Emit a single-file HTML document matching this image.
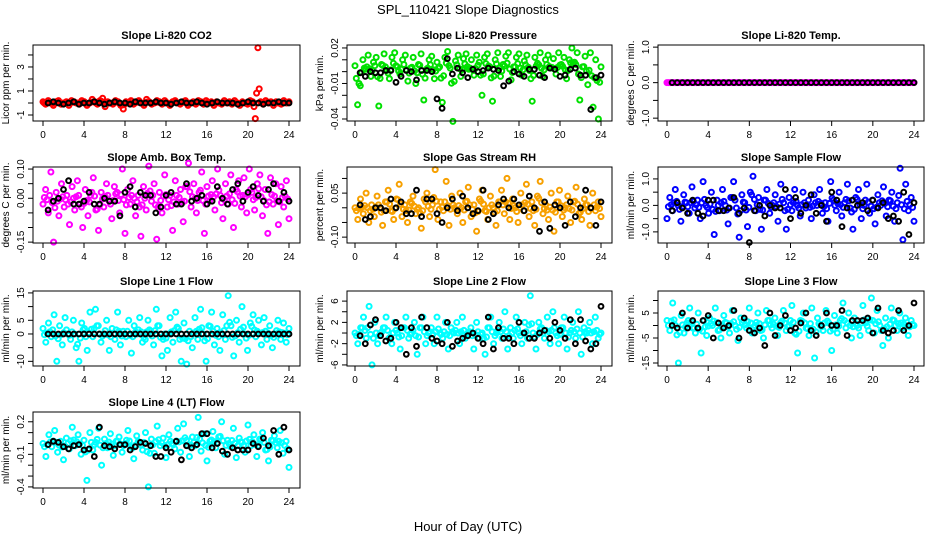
<!DOCTYPE html>
<html><head><meta charset="utf-8">
<style>
html,body{margin:0;padding:0;background:#fff;}
svg{display:block;font-family:"Liberation Sans",Arial,sans-serif;}
</style></head>
<body>
<svg id="chart" width="936" height="540" viewBox="0 0 936 540" xmlns="http://www.w3.org/2000/svg">
<rect width="936" height="540" fill="#fff"/>
<text x="468" y="14" text-anchor="middle" font-size="13">SPL_110421  Slope Diagnostics</text>
<text x="468" y="531" text-anchor="middle" font-size="13">Hour of Day (UTC)</text>
</svg>
<script>
// ---- data ----
const xTicks = [0,4,8,12,16,20,24];
const co2Vals = [0.1,-0.1,0.2,0.0,-0.2,0.1,0.2,-0.1,0.0,0.1,-0.2,0.2,0.1,0.0,-0.1,0.2,0.1,-0.2,0.0,0.3,0.1,-0.1,0.2,0.4,-0.3,0.1,0.0,-0.1,0.2,0.1,-0.2,-0.5,0.1,0.0,0.2,-0.1,0.1,0.2,0.0,-0.2,0.3,0.1,-0.1,0.0,0.2,0.1,-0.1,0.2,0.0,-0.2,0.1,0.2,0.0,-0.1,0.1,0.2,-0.2,0.0,0.1,-0.1,0.2,0.1,-0.1,0.2,0.0,0.1,-0.2,0.1,0.0,-0.1,0.2,0.0,0.1,-0.1,0.2,0.0,-0.2,0.1,0.0,-0.1,0.2,0.1,-1.3,4.6,0.1,-0.1,0.2,0.0,0.1,-0.2,0.1,0.0,-0.1,0.2,0.0,0.1];
const co2Black = [0.0,0.1,0.0,-0.1,0.0,0.1,-0.1,0.0,0.0,0.1,0.0,-0.1,0.0,0.1,0.0,0.0,-0.1,0.1,0.0,0.0,0.0,0.1,0.0,0.0,-0.1,0.0,0.1,0.0,0.0,0.1,0.0,-0.1,0.0,0.1,0.0,0.0,0.0,-0.1,0.0,0.1,0.0,0.0,-0.1,0.0,0.0,0.1,0.0,0.0];
const presVals = [0.005,-0.028,-0.012,0.010,0.002,0.014,-0.004,0.008,0.012,-0.029,0.006,0.015,0.001,-0.006,0.012,0.016,0.004,-0.002,0.010,0.014,-0.008,0.003,0.012,-0.010,0.006,0.015,-0.024,0.002,0.010,0.013,-0.006,0.008,0.004,-0.026,0.012,0.017,0.003,-0.042,0.009,0.014,-0.004,0.011,0.015,0.002,0.010,-0.003,0.014,0.008,-0.020,0.012,0.015,0.004,-0.025,0.010,0.016,-0.004,0.006,0.013,0.016,-0.007,0.004,0.012,0.015,-0.003,0.009,0.014,0.001,-0.025,0.012,0.007,0.016,-0.004,0.010,0.014,0.003,0.011,-0.002,0.016,0.006,0.012,-0.006,0.010,0.020,0.008,0.016,-0.024,0.004,0.013,-0.011,0.016,-0.030,0.010,-0.040,0.004];
const presBlack = [-0.001,-0.004,0.000,-0.001,-0.001,0.001,0.001,-0.009,-0.004,0.001,0.000,-0.007,0.001,0.001,0.000,-0.023,-0.031,0.011,-0.002,0.003,-0.001,-0.005,0.002,0.000,0.001,0.003,0.002,0.001,-0.012,-0.008,0.000,-0.002,-0.004,0.002,0.002,-0.003,-0.005,0.003,0.002,-0.004,-0.003,0.002,0.003,-0.003,-0.003,-0.032,-0.005,-0.003];
const tempVals = [0,0,0,0,0,0,0,0,0,0,0,0,0,0,0,0,0,0,0,0,0,0,0,0,0,0,0,0,0,0,0,0,0,0,0,0,0,0,0,0,0,0,0,0,0,0,0,0,0,0,0,0,0,0,0,0,0,0,0,0,0,0,0,0,0,0,0,0,0,0,0,0];
const tempBlack = [0,0,0,0,0,0,0,0,0,0,0,0,0,0,0,0,0,0,0,0,0,0,0,0,0,0,0,0,0,0,0,0,0,0,0,0,0,0,0,0,0,0,0,0,0,0,0,0];
const ambVals = [-0.02,0.03,-0.05,0.09,-0.15,0.02,-0.06,0.05,-0.03,0.01,-0.09,0.04,-0.04,0.06,-0.02,-0.10,0.03,-0.06,0.01,0.07,-0.04,-0.11,0.02,-0.03,0.05,-0.01,-0.07,0.04,0.02,-0.05,0.10,-0.12,0.03,-0.02,0.06,-0.06,0.01,-0.13,0.04,-0.04,0.11,-0.01,0.05,-0.14,0.02,-0.05,0.08,-0.03,0.01,-0.11,0.06,-0.02,0.03,-0.08,0.04,0.12,-0.03,0.05,-0.05,0.02,0.09,-0.12,0.04,-0.01,0.06,-0.04,0.10,0.01,-0.07,0.05,-0.02,0.08,-0.10,0.03,0.06,-0.03,0.07,-0.05,0.10,0.02,-0.04,0.05,0.08,-0.06,0.03,-0.12,0.07,-0.02,0.05,-0.09,0.04,-0.03,0.06,-0.07];
const ambBlack = [-0.04,-0.01,0.00,0.03,0.06,-0.02,-0.02,-0.01,0.02,-0.02,-0.02,0.00,-0.01,-0.01,-0.06,0.02,0.04,-0.03,0.02,0.01,0.01,-0.05,-0.03,0.01,0.02,-0.02,-0.02,0.05,-0.01,0.00,0.01,-0.02,-0.01,0.04,0.00,-0.02,0.03,0.05,-0.01,0.02,0.04,0.01,-0.01,0.03,0.05,-0.01,0.02,-0.01];
const rhVals = [0.00,-0.04,0.03,-0.02,0.05,-0.05,0.01,-0.03,0.04,0.00,-0.06,0.02,0.06,-0.01,-0.04,0.03,0.08,-0.03,0.01,-0.05,0.02,0.04,-0.02,0.00,-0.07,0.03,0.05,-0.03,0.01,0.13,-0.04,0.02,-0.01,0.09,-0.06,0.04,0.00,-0.02,0.05,-0.05,0.02,0.07,-0.03,0.01,-0.08,0.03,0.06,-0.01,-0.04,0.04,0.00,-0.06,0.02,0.06,-0.02,0.10,-0.04,0.03,0.00,-0.05,0.05,-0.01,0.08,-0.03,0.02,-0.06,0.04,0.09,-0.02,0.01,-0.04,0.05,-0.08,0.02,0.06,-0.03,0.00,0.04,-0.05,0.02,0.07,-0.02,-0.04,0.03,0.01,-0.06,0.05,-0.01,0.02,-0.03];
const rhBlack = [0.01,-0.04,-0.03,0.00,0.00,-0.01,0.03,0.00,0.02,-0.02,-0.02,0.06,-0.03,0.03,0.03,-0.02,-0.05,0.00,0.03,-0.01,0.04,0.00,-0.02,-0.01,0.06,-0.04,-0.02,0.01,0.03,0.00,0.03,0.01,-0.01,0.04,0.00,-0.08,0.02,-0.07,0.01,0.00,-0.06,0.02,-0.03,0.00,0.06,0.00,-0.06,0.02];
const sampVals = [-0.5,0.3,-0.2,0.6,0.0,-0.6,0.4,0.1,-0.3,0.7,-0.1,0.2,-0.5,0.9,0.0,-0.3,0.5,-1.1,0.2,-0.2,0.6,0.0,-0.7,0.3,0.9,-0.1,-1.2,0.4,0.1,-0.8,0.5,1.1,-0.2,0.3,-0.9,0.2,0.6,-0.3,0.0,0.4,-0.6,0.8,0.1,-0.9,0.3,-0.2,0.6,0.0,-0.4,0.5,-0.1,0.2,-0.5,0.4,0.0,0.6,-0.3,0.1,-0.6,0.9,0.2,-0.2,0.5,-0.4,0.1,0.8,-0.1,-0.9,0.3,0.6,-0.5,0.0,0.8,-0.3,0.2,-0.7,0.4,0.0,0.7,-0.4,0.2,0.5,-0.6,0.1,1.4,-1.3,0.8,-0.2,0.3,-0.6];
const sampBlack = [-0.2,0.1,-0.1,-0.3,0.2,-0.3,-0.4,0.2,0.2,-0.2,-0.2,-0.1,0.3,-0.3,-0.1,-1.4,-0.2,0.0,-0.4,0.0,-0.1,-0.1,0.6,-0.5,0.3,-0.3,0.0,0.4,-0.3,0.0,-0.6,0.5,0.2,-0.8,-0.1,0.2,0.0,0.1,-0.2,0.2,-0.1,0.1,-0.5,-0.4,-0.6,0.5,-1.1,0.1];
const line1Vals = [2,-3,4,-1,7,-10,3,-4,6,0,-2,5,-5,-10,4,2,-6,8,-1,9,3,-3,0,5,-6,2,-2,8,-4,1,-1,5,-7,3,0,6,-3,-2,5,1,-4,9,3,-8,0,-6,6,-3,8,2,-10,4,-11,1,-5,6,-2,9,0,-10,3,8,-4,2,-6,7,-2,14,3,-8,5,-3,10,0,-6,4,7,-1,5,-4,6,-2,3,-5,0,5,-2,4,-3,2];
const line1Black = [0,0,0,0,0,0,0,0,0,0,0,0,0,0,0,0,0,0,0,0,0,0,0,0,0,0,0,0,0,0,0,0,0,0,0,0,0,0,0,0,0,0,0,0,0,0,0,0];
const line2Vals = [0,-2,1,3,-1,5,-6,2,-2,0,1,3,-1,-2,2,0,-3,1,3,-1,0,2,-4,1,3,-2,0,1,-2,3,0,-1,2,-3,1,0,2,-2,3,-1,0,1,-3,2,-1,0,-4,1,3,-2,0,2,-1,4,-3,1,-1,3,0,-2,2,-1,7,0,-3,2,1,-1,3,-2,4,0,-2,1,3,-3,0,2,-1,4,-4,1,0,2,-2,3,-1,0];
const line2Black = [-0.5,-2,1.5,2.5,-0.5,-1.5,-1,2,1,-4,1,-2.5,3,1,-1,-1.5,-2,2,-2.5,-1.5,-1,-0.5,0,-1,-2,3,-3,1,-1,-1,-2,2,0,-1,-1,0,0.5,-1,2,0.5,-1,2.5,-2,2.5,-1.5,-3,-2,5];
const line3Vals = [2,-2,9,0,-15,4,-3,1,7,-1,-3,5,-11,2,-4,3,0,7,-2,-5,4,1,-3,6,0,-6,3,2,-1,7,-3,0,5,-2,-5,6,2,-1,3,-4,1,6,-2,0,8,-3,-11,2,5,-1,-4,7,-13,3,0,-2,6,1,-10,4,-3,2,9,-1,5,-5,3,0,-4,8,1,-2,11,-3,6,0,-8,3,-5,7,2,-2,5,-1,3,-4,2,0];
const line3Black = [0,-1,5,-1,2,-1,2,4,-5,1,-1,0,6,-5,3,-2,-3,-1,-8,5,-4,0,4,-2,-1,1,5,-2,-4,0,5,0,0,6,-4,2,2,2,3,-3,7,-2,-3,-2,6,-2,0,9];
const line4Vals = [0.0,-0.12,0.08,-0.03,0.12,-0.08,0.02,-0.15,0.05,-0.05,0.15,-0.02,0.08,-0.10,0.03,-0.34,0.10,-0.06,0.01,0.14,-0.20,0.04,-0.04,0.09,-0.11,0.02,0.06,-0.08,0.00,0.12,-0.03,-0.14,0.07,0.01,-0.06,0.10,-0.40,0.04,-0.09,0.16,-0.02,0.05,-0.13,0.08,0.00,-0.05,0.14,-0.08,0.18,0.03,-0.12,0.06,-0.02,0.24,-0.07,0.09,-0.16,0.02,0.11,-0.04,0.06,0.20,-0.10,0.03,-0.03,0.14,-0.13,0.05,0.01,-0.08,0.17,-0.02,0.08,-0.12,0.04,0.10,-0.06,-0.16,0.03,0.07,-0.04,0.12,-0.09,0.02,-0.22];
const line4Black = [-0.01,0.02,0.01,-0.03,-0.05,-0.02,-0.01,-0.06,-0.05,-0.12,0.15,-0.02,-0.03,-0.05,-0.01,-0.01,-0.06,-0.03,0.01,0.00,-0.02,-0.12,-0.12,-0.04,-0.08,0.02,-0.15,-0.02,-0.04,-0.01,0.09,0.09,-0.04,0.00,-0.07,-0.10,-0.04,-0.06,-0.06,-0.06,0.00,-0.03,0.05,-0.02,0.12,-0.10,0.15,-0.06];

const panels = [
 {id:'co2', title:'Slope Li-820 CO2', ylab:'Licor ppm per min.', col:0,row:0, ymin:-1.5,ymax:4.83, ticks:[-1,0,1,2,3,4], labels:[-1,1,3], fmt:v=>String(v), color:'#ff0000', vals:co2Vals, blk:co2Black},
 {id:'pressure', title:'Slope Li-820 Pressure', ylab:'kPa per min.', col:1,row:0, ymin:-0.0417,ymax:0.0225, ticks:[-0.04,-0.03,-0.02,-0.01,0,0.01,0.02], labels:[-0.04,-0.01,0.02], fmt:v=>v.toFixed(2), color:'#00e000', vals:presVals, blk:presBlack},
 {id:'li820-temp', title:'Slope Li-820 Temp.', ylab:'degrees C per min.', col:2,row:0, ymin:-1.08,ymax:1.06, ticks:[-1,-0.5,0,0.5,1], labels:[-1,0,1], fmt:v=>v.toFixed(1), color:'#ff00ff', vals:tempVals, blk:tempBlack},
 {id:'amb-box-temp', title:'Slope Amb. Box Temp.', ylab:'degrees C per min.', col:0,row:1, ymin:-0.153,ymax:0.107, ticks:[-0.15,-0.1,-0.05,0,0.05,0.1], labels:[-0.15,0,0.1], fmt:v=>v.toFixed(2), color:'#ff00ff', vals:ambVals, blk:ambBlack},
 {id:'gas-stream-rh', title:'Slope Gas Stream RH', ylab:'percent per min.', col:1,row:1, ymin:-0.12,ymax:0.139, ticks:[-0.1,-0.05,0,0.05,0.1], labels:[-0.1,0.05], fmt:v=>v.toFixed(2), color:'#f7a000', vals:rhVals, blk:rhBlack},
 {id:'sample-flow', title:'Slope Sample Flow', ylab:'ml/min per min.', col:2,row:1, ymin:-1.42,ymax:1.45, ticks:[-1,-0.5,0,0.5,1], labels:[-1,0,1], fmt:v=>v.toFixed(1), color:'#0000ff', vals:sampVals, blk:sampBlack},
 {id:'line1-flow', title:'Slope Line 1 Flow', ylab:'ml/min per min.', col:0,row:2, ymin:-11.7,ymax:15.7, ticks:[-10,-5,0,5,10,15], labels:[-10,0,5,15], fmt:v=>String(v), color:'#00ffff', vals:line1Vals, blk:line1Black},
 {id:'line2-flow', title:'Slope Line 2 Flow', ylab:'ml/min per min.', col:1,row:2, ymin:-6.2,ymax:7.9, ticks:[-6,-4,-2,0,2,4,6], labels:[-6,-2,2,6], fmt:v=>String(v), color:'#00ffff', vals:line2Vals, blk:line2Black},
 {id:'line3-flow', title:'Slope Line 3 Flow', ylab:'ml/min per min.', col:2,row:2, ymin:-16.2,ymax:13.8, ticks:[-15,-10,-5,0,5,10], labels:[-15,-5,5], fmt:v=>String(v), color:'#00ffff', vals:line3Vals, blk:line3Black},
 {id:'line4-lt-flow', title:'Slope Line 4 (LT) Flow', ylab:'ml/min per min.', col:0,row:3, ymin:-0.41,ymax:0.29, ticks:[-0.4,-0.3,-0.2,-0.1,0,0.1,0.2], labels:[-0.4,-0.1,0.2], fmt:v=>v.toFixed(1), color:'#00ffff', vals:line4Vals, blk:line4Black}
];
const colGeom = [{l:33,r:300,x0:43,x24:289},{l:347,r:612,x0:355,x24:601},{l:658,r:924,x0:667,x24:914}];
const rowGeom = [{t:45,b:121},{t:167,b:243},{t:291,b:366},{t:412,b:488}];

const NS='http://www.w3.org/2000/svg';
const svg=document.getElementById('chart');
function mk(tag,attrs,parent){const e=document.createElementNS(NS,tag);for(const k in attrs)e.setAttribute(k,attrs[k]);(parent||svg).appendChild(e);return e;}

panels.forEach(p=>{
  const c=colGeom[p.col], r=rowGeom[p.row];
  const xs=h=>c.x0+(c.x24-c.x0)*h/24;
  const ys=v=>r.b-(v-p.ymin)/(p.ymax-p.ymin)*(r.b-r.t);
  const g=mk('g',{});
  
  
  const t=mk('text',{x:(c.l+c.r)/2,y:r.t-6,'text-anchor':'middle','font-size':'11','font-weight':'bold'},g);
  t.textContent=p.title;
  
  
  const pg=mk('g',{fill:'none','stroke-width':'2'},g);
  
  
  const n=p.vals.length;
  p.vals.forEach((v,i)=>{
    const h=i*24/(n-1);
    const ci=mk('circle',{cx:xs(h).toFixed(1),cy:ys(v).toFixed(1),r:2.5,stroke:p.color},pg);
    
    
  });
  for(let i=0;i<n-1;i++){
    const h=(i+0.5)*24/(n-1);
    const v=(p.vals[i]*0.5+p.vals[i+1]*0.5)*0.5;
    const ci=mk('circle',{cx:xs(h).toFixed(1),cy:ys(v).toFixed(1),r:2.5,stroke:p.color},pg);
    
    
  }
  const bg=mk('g',{fill:'none',stroke:'#000','stroke-width':'2'},g);
  
  
  p.blk.forEach((v,i)=>{
    const h=(i+1)*0.5;
    const ci=mk('circle',{cx:xs(h).toFixed(1),cy:ys(v).toFixed(1),r:2.4},bg);
    
    
  });
  const bx=mk('rect',{x:c.l,y:r.t,width:c.r-c.l,height:r.b-r.t,fill:'none',stroke:'#000','stroke-width':'1'},g);
  
  
  xTicks.forEach(h=>{
    mk('line',{x1:xs(h),x2:xs(h),y1:r.b,y2:r.b+5,stroke:'#000'},g);
    const tl=mk('text',{x:xs(h),y:r.b+17,'text-anchor':'middle','font-size':'10'},g);
    tl.textContent=h;
    
    
  });
  p.ticks.forEach(v=>{
    mk('line',{x1:c.l-5,x2:c.l,y1:ys(v),y2:ys(v),stroke:'#000'},g);
  });
  p.labels.forEach(v=>{
    const y=ys(v), x=c.l-9;
    const tl=mk('text',{x:x,y:y,'text-anchor':'middle','font-size':'10',transform:`rotate(-90 ${x} ${y})`},g);
    tl.textContent=p.fmt(v);
    
    
  });
  const yx=c.l-24, yy=(r.t+r.b)/2;
  const yl=mk('text',{x:yx,y:yy,'text-anchor':'middle','font-size':'10',transform:`rotate(-90 ${yx} ${yy})`},g);
  yl.textContent=p.ylab;
  
  
});
</script>
</body></html>
